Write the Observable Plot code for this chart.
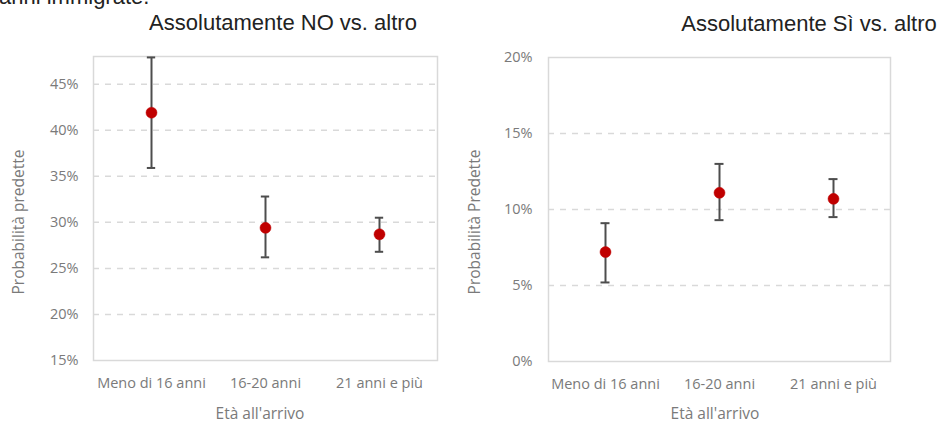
<!DOCTYPE html>
<html>
<head>
<meta charset="utf-8">
<script src="https://cdn.jsdelivr.net/npm/d3@7"></script>
<script src="https://cdn.jsdelivr.net/npm/@observablehq/plot@0.6"></script>
<style>
  html, body { margin: 0; padding: 0; background: #fff; }
  #wrap { position: relative; width: 940px; height: 425px; overflow: hidden; background: #fff; }
  .abs { position: absolute; white-space: nowrap; }
  .title { font-family: "Liberation Sans", Arial, sans-serif; font-size: 22px; line-height: 22px; color: #222; }
  .axt { font-family: "Open Sans", sans-serif; font-size: 15.5px; line-height: 15.5px; color: #7a7a7a; }
  .chart { position: absolute; top: 0; }
</style>
</head>
<body>
<div id="wrap"></div>
<script>
// ---- data ----
const categories = ["Meno di 16 anni", "16-20 anni", "21 anni e più"];

const noEstimate = [0.419, 0.294, 0.287];
const noLower    = [0.359, 0.262, 0.268];
const noUpper    = [0.479, 0.328, 0.305];
const noTicks    = [0.15, 0.20, 0.25, 0.30, 0.35, 0.40, 0.45];

const siEstimate = [0.072, 0.111, 0.107];
const siLower    = [0.052, 0.093, 0.095];
const siUpper    = [0.091, 0.130, 0.120];
const siTicks    = [0.00, 0.05, 0.10, 0.15, 0.20];

const headerText = "anni immigrate.";
const titles = ["Assolutamente NO vs. altro", "Assolutamente Sì vs. altro"];
const yTitles = ["Probabilità predette", "Probabilità Predette"];
const xTitle = "Età all'arrivo";

// ---- styles ----
const pointColor = "#c00000";
const barColor = "#4d4d4d";
const gridColor = "#d9d9d9";
const capWidth = 9;

function rows(est, lo, hi) {
  return categories.map((c, i) => ({cat: c, est: est[i], lo: lo[i], hi: hi[i]}));
}

function makeChart({data, domain, ticks, margins, tickPadding}) {
  const plotWidth = 470 - margins.left - margins.right;
  const bw = plotWidth / categories.length;
  const inset = (bw - capWidth) / 2;
  const grid = ticks.filter(t => t > domain[0] + 1e-9 && t < domain[1] - 1e-9);
  return Plot.plot({
    width: 470,
    height: 425,
    marginLeft: margins.left,
    marginRight: margins.right,
    marginTop: margins.top,
    marginBottom: margins.bottom,
    style: {fontFamily: "'Open Sans', sans-serif", fontSize: "14.5px", color: "#7a7a7a", background: "transparent", overflow: "visible"},
    x: {domain: categories, padding: 0, label: null},
    y: {domain, label: null},
    marks: [
      Plot.ruleY(grid, {stroke: gridColor, strokeWidth: 1.5, strokeDasharray: "6,6"}),
      Plot.frame({stroke: gridColor, strokeWidth: 1.5}),
      Plot.axisY({ticks, tickFormat: d3.format(".0%"), tickSize: 0, tickPadding, label: null}),
      Plot.axisX({tickSize: 0, tickPadding: 17, label: null}),
      Plot.ruleX(data, {x: "cat", y1: "lo", y2: "hi", stroke: barColor, strokeWidth: 2}),
      Plot.tickY(data, {x: "cat", y: "lo", stroke: barColor, strokeWidth: 2, inset}),
      Plot.tickY(data, {x: "cat", y: "hi", stroke: barColor, strokeWidth: 2, inset}),
      Plot.dot(data, {x: "cat", y: "est", r: 5.5, fill: pointColor, stroke: pointColor, strokeWidth: 0.5})
    ]
  });
}

const wrap = document.getElementById("wrap");

const left = makeChart({
  data: rows(noEstimate, noLower, noUpper),
  domain: [0.15, 0.48],
  ticks: noTicks,
  margins: {left: 93, right: 33, top: 56, bottom: 65},
  tickPadding: 15
});
left.classList.add("chart");
left.style.left = "0px";
wrap.appendChild(left);

const right = makeChart({
  data: rows(siEstimate, siLower, siUpper),
  domain: [0, 0.20],
  ticks: siTicks,
  margins: {left: 78, right: 50, top: 57, bottom: 64},
  tickPadding: 16
});
right.classList.add("chart");
right.style.left = "470px";
wrap.appendChild(right);

function addText(cls, text, css) {
  const d = document.createElement("div");
  d.className = "abs " + cls;
  d.textContent = text;
  Object.assign(d.style, css);
  wrap.appendChild(d);
  return d;
}

addText("title", headerText, {left: "-1px", top: "-13.6px"});
addText("title", titles[0], {left: "283px", top: "12px", transform: "translateX(-50%)"});
addText("title", titles[1], {left: "809px", top: "13px", transform: "translateX(-50%)"});
addText("axt", xTitle, {left: "260px", top: "406px", transform: "translateX(-50%)"});
addText("axt", xTitle, {left: "715px", top: "406px", transform: "translateX(-50%)"});
addText("axt", yTitles[0], {left: "19px", top: "222px", transform: "translate(-50%,-50%) rotate(-90deg)"});
addText("axt", yTitles[1], {left: "475px", top: "222px", transform: "translate(-50%,-50%) rotate(-90deg)"});
</script>
</body>
</html>
